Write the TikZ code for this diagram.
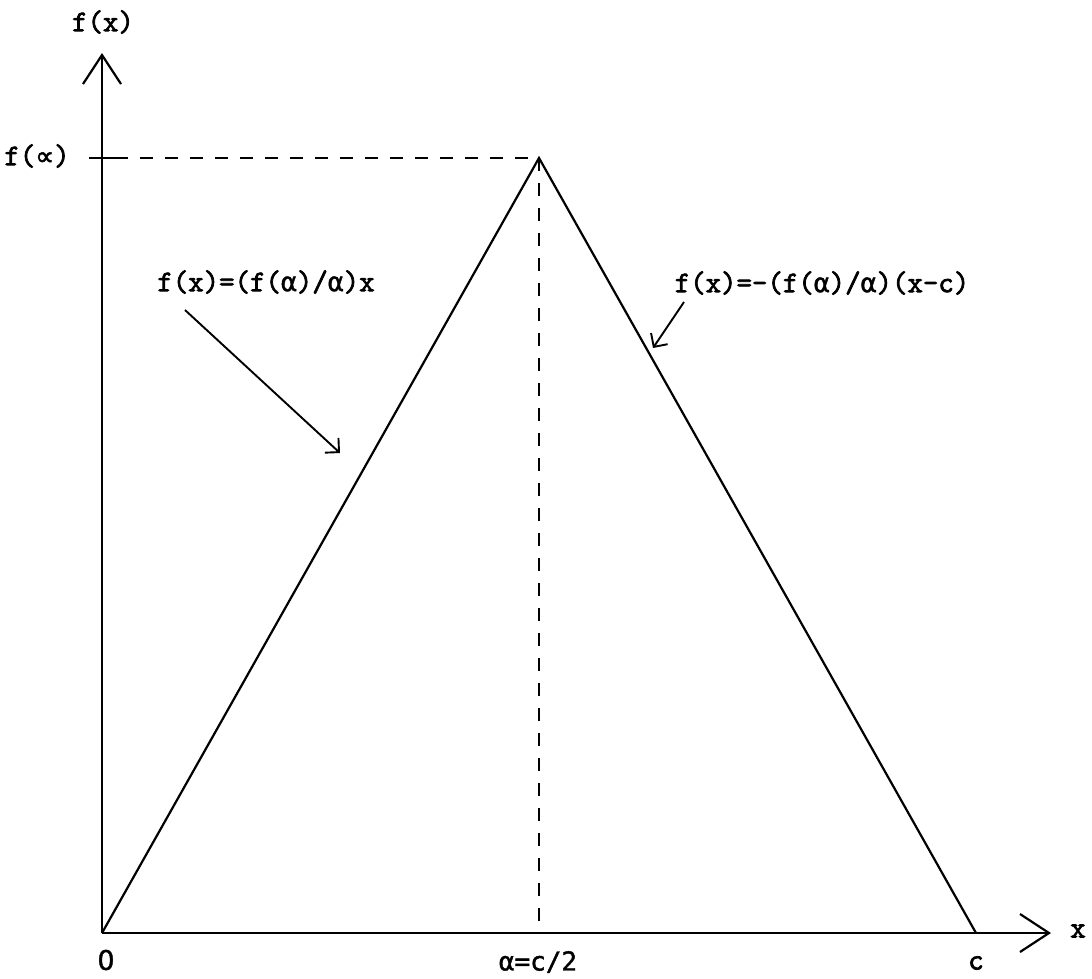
\documentclass[tikz,border=0pt]{standalone}
\usepackage{fontspec}
\setmonofont[FakeBold=2.5]{Latin Modern Mono}
\newfontfamily\grk[FakeBold=1.5]{DejaVu Sans Mono}
\newfontfamily\symfont[FakeBold=2]{DejaVu Sans}
\newfontfamily\sansmono[FakeBold=1.5]{DejaVu Sans Mono}
\newfontfamily\sanslab[FakeBold=1.5]{DejaVu Sans}
\newcommand{\ga}{{\grk\fontsize{26.5}{30}\selectfont α}}
\usetikzlibrary{arrows.meta}
\begin{document}
\begin{tikzpicture}[x=1pt,y=-1pt,
  axisline/.style={line width=2.2pt, -{Straight Barb[length=29pt,width=38pt,line width=2.2pt]}},
  curve/.style={line width=2.2pt, line join=miter},
  dashline/.style={line width=2.2pt, dash pattern=on 13pt off 12pt},
  pointer/.style={line width=1.9pt, -{Straight Barb[length=10pt,width=20pt,line width=1.9pt]}},
  ttlab/.style={inner sep=0pt, font=\fontsize{30}{34}\ttfamily},
  sflab/.style={inner sep=0pt, font=\fontsize{26}{30}\sansmono}]
\useasboundingbox (0,0) rectangle (1092,978);
% key points
\coordinate (O) at (102,933);
\coordinate (Ytop) at (102,53);
\coordinate (Xend) at (1051,933);
\coordinate (P) at (539,158);
\coordinate (C) at (976,933);
\coordinate (A) at (539,933);
\coordinate (TL) at (89,158);
\coordinate (TR) at (115,158);
% axes
\draw[axisline] (O) -- (Ytop);
\draw[axisline] (O) -- (Xend);
\draw[line width=2.2pt] (TL) -- (TR);
% dashed guides
\draw[dashline] (TR) -- (P);
\draw[dashline] (P) -- (A);
% triangle
\draw[curve] (O) -- (P) -- (C);
% labels
\node[ttlab] (fx) at (103,22) {f(x)};
\node[ttlab] (fa) at (37,156) {f({\symfont\fontsize{26.5}{30}\selectfont ∝})};
\node[ttlab] (left) at (266,282) {f(x)=(f(\ga)/\ga)x};
\node[ttlab] (right) at (822,283) {f(x)=-(f(\ga)/\ga)(x-c)};
\node[inner sep=0pt, font=\fontsize{27}{30}\sanslab] (zero) at (106,960) {0};
\node[sflab] (alab) at (538,962) {α=c/2};
\node[ttlab] (clab) at (976,963) {c};
\node[ttlab] (xlab) at (1078,931) {x};
% pointers
\coordinate (Lt) at (340,453);
\coordinate (Rt) at (653,348);
\draw[pointer] (185,310) -- (Lt);
\draw[pointer] (684,302) -- (Rt);
\end{tikzpicture}
\end{document}
